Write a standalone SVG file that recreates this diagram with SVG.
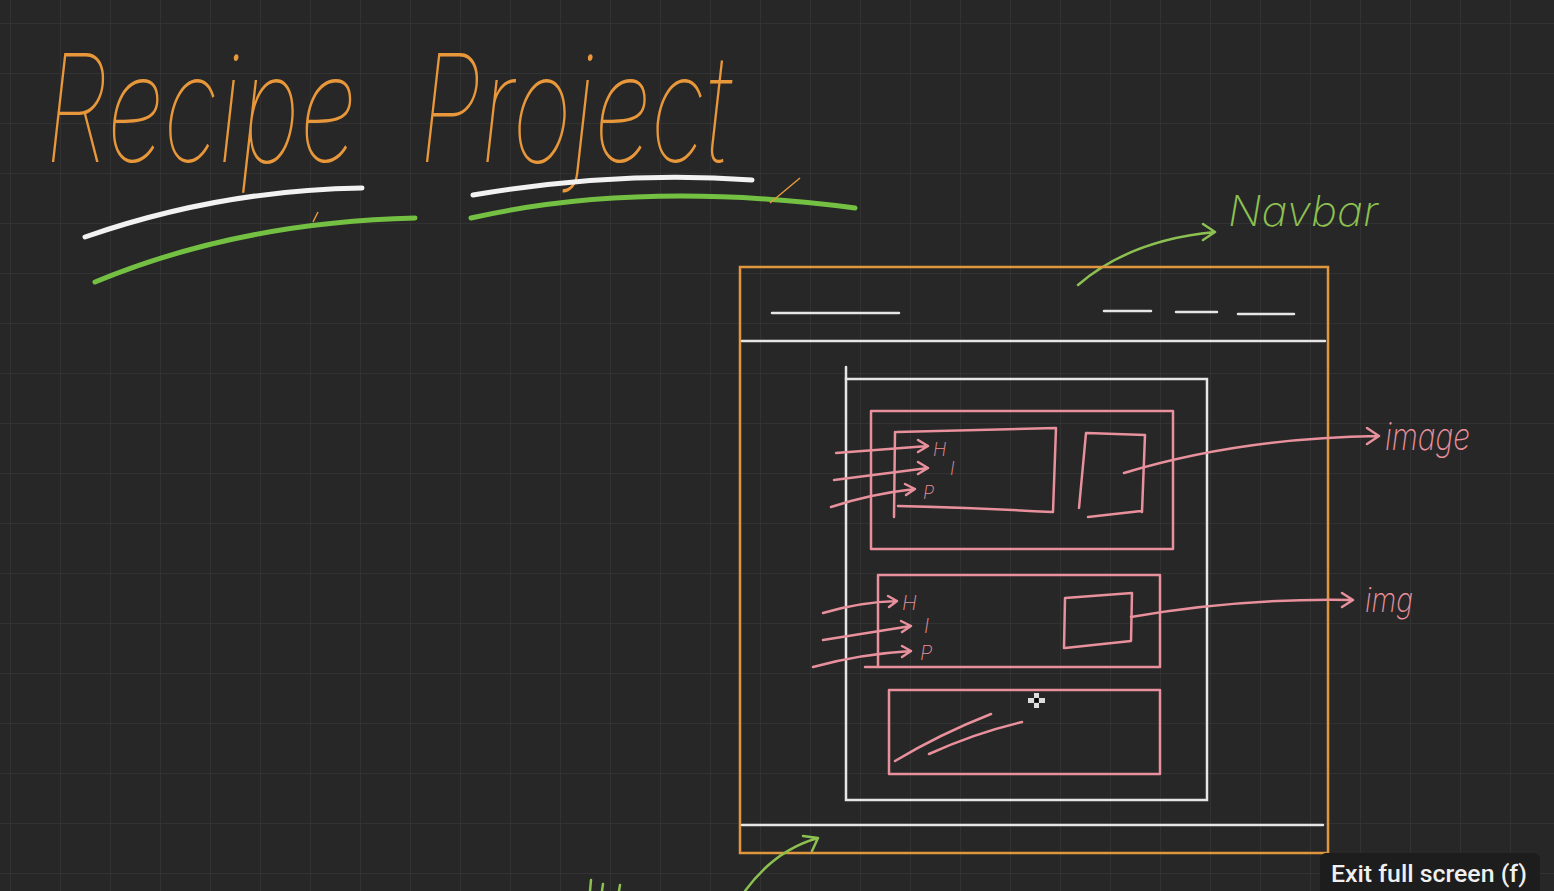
<svg xmlns="http://www.w3.org/2000/svg" width="1554" height="891" viewBox="0 0 1554 891">
<defs>
<pattern id="grid" x="10" y="23" width="50" height="50" patternUnits="userSpaceOnUse">
<path d="M0 0H50M0 0V50" fill="none" stroke="#353535" stroke-width="1.5"/>
</pattern>
<style>
.hand{font-family:Inter,"Lato","Liberation Sans",sans-serif;font-style:italic;font-weight:200}
.title{font-family:Inter,"Lato","Liberation Sans",sans-serif;font-style:italic;font-weight:100}
.or{stroke:#e0963e;fill:none;stroke-width:2.5}
.wh{stroke:#e6e6e6;fill:none;stroke-width:2.5;stroke-linecap:round}
.pk{stroke:#e8909c;fill:none;stroke-width:2.5;stroke-linecap:round;stroke-linejoin:round}
.gr{stroke:#8cc152;fill:none;stroke-width:2.5;stroke-linecap:round;stroke-linejoin:round}
.pkt{fill:#e8909c}
</style>
</defs>
<rect width="1554" height="891" fill="#272727"/>
<rect width="1554" height="891" fill="url(#grid)"/>

<g id="title">
<text class="title" x="45" y="162" font-size="150" fill="#e8983a" word-spacing="50" textLength="685" lengthAdjust="spacingAndGlyphs">Recipe Project</text>
<path d="M85 237 Q220 190 362 188" stroke="#f2f2f2" stroke-width="5" fill="none" stroke-linecap="round"/>
<path d="M95 282 Q240 222 415 218" stroke="#74c043" stroke-width="5" fill="none" stroke-linecap="round"/>
<path d="M473 195 Q620 170 752 180" stroke="#f2f2f2" stroke-width="5" fill="none" stroke-linecap="round"/>
<path d="M471 218 Q640 180 855 208" stroke="#74c043" stroke-width="5" fill="none" stroke-linecap="round"/>
<path d="M313 222 L318 212 M770 203 L800 178" stroke="#e8983a" stroke-width="1.5" fill="none"/>
</g>

<g id="navbar-label">
<path class="gr" d="M1078 285 Q1130 240 1215 232 M1203 224 L1215 232 L1203 240"/>
<text class="hand" x="1228" y="226" font-size="42" fill="#8cc152" textLength="150" lengthAdjust="spacingAndGlyphs">Navbar</text>
</g>

<g id="page">
<rect x="740" y="267" width="588" height="586" class="or"/>
<line x1="742" y1="341" x2="1325" y2="341" class="wh"/>
<line x1="772" y1="313" x2="899" y2="313" class="wh"/>
<line x1="1104" y1="311" x2="1151" y2="311" class="wh"/>
<line x1="1176" y1="312" x2="1217" y2="312" class="wh"/>
<line x1="1238" y1="314" x2="1294" y2="314" class="wh"/>
<line x1="742" y1="825" x2="1323" y2="825" class="wh"/>
</g>

<g id="container">
<rect x="846" y="379" width="361" height="421" class="wh"/>
<line x1="846" y1="367" x2="846" y2="379" class="wh"/>
</g>

<g id="card1">
<rect x="871" y="411" width="302" height="138" class="pk"/>
<path class="pk" d="M895 432 L894 517 M897 432 Q980 430 1056 428 L1053 512 M898 506 Q980 508 1052 512"/>
<path class="pk" d="M1086 433 L1079 508 M1087 433 L1145 435 L1142 512 M1088 517 L1141 511"/>
<path class="pk" d="M836 453 L928 446 M918 440 L928 446 L918 452"/>
<path class="pk" d="M834 480 L928 468 M918 462 L928 468 L918 474"/>
<path class="pk" d="M831 507 Q870 494 915 489 M905 484 L915 489 L906 495"/>
<text class="hand pkt" x="933" y="456" font-size="18">H</text>
<text class="hand pkt" x="950" y="475" font-size="18">I</text>
<text class="hand pkt" x="923" y="499" font-size="18">P</text>
</g>

<g id="card2">
<rect x="878" y="575" width="282" height="92" class="pk"/>
<line x1="865" y1="667" x2="878" y2="667" class="pk"/>
<path class="pk" d="M1065 598 L1064 648 M1065 598 L1132 593 L1131 641 L1065 648"/>
<path class="pk" d="M823 613 Q860 602 897 601 M888 596 L897 601 L889 607"/>
<path class="pk" d="M823 640 L911 626 M901 621 L911 626 L902 632"/>
<path class="pk" d="M813 667 Q860 654 911 651 M902 646 L911 651 L902 657"/>
<text class="hand pkt" x="902" y="610" font-size="20">H</text>
<text class="hand pkt" x="924" y="633" font-size="20">I</text>
<text class="hand pkt" x="920" y="660" font-size="20">P</text>
</g>

<g id="card3">
<rect x="889" y="690" width="271" height="84" class="pk"/>
<path class="pk" d="M895 761 Q940 734 991 714 M929 754 Q975 733 1022 722"/>
</g>

<g id="connectors">
<path class="pk" d="M1124 473 Q1240 438 1378 436 M1367 428 L1379 436 L1367 444"/>
<path class="pk" d="M1131 617 Q1240 598 1352 600 M1342 593 L1353 600 L1342 607"/>
<path class="gr" d="M745 891 Q775 850 818 838 M803 836 L818 838 L812 851"/>
<path class="gr" d="M591 880 L590 891 M603 884 L602 891 M620 885 L619 891"/>
</g>

<g id="labels">
<text class="hand pkt" x="1385" y="450" font-size="38" textLength="85" lengthAdjust="spacingAndGlyphs">image</text>
<text class="hand pkt" x="1365" y="612" font-size="34" textLength="48" lengthAdjust="spacingAndGlyphs">img</text>
</g>

<g id="cursor">
<rect x="1034" y="693" width="5" height="5" fill="#ddd"/>
<rect x="1034" y="703" width="5" height="5" fill="#ddd"/>
<rect x="1028" y="698" width="6" height="5" fill="#ddd"/>
<rect x="1039" y="698" width="6" height="5" fill="#ddd"/>
<rect x="1035" y="698" width="3" height="4" fill="#000"/>
</g>

<g id="tooltip">
<rect x="1320" y="853" width="220" height="45" rx="6" fill="#1d1d1d"/>
<text x="1331" y="882" font-family="Roboto, 'Liberation Sans', sans-serif" font-weight="500" font-size="23" fill="#f0f0f0" textLength="196" lengthAdjust="spacingAndGlyphs">Exit full screen (f)</text>
</g>
</svg>
